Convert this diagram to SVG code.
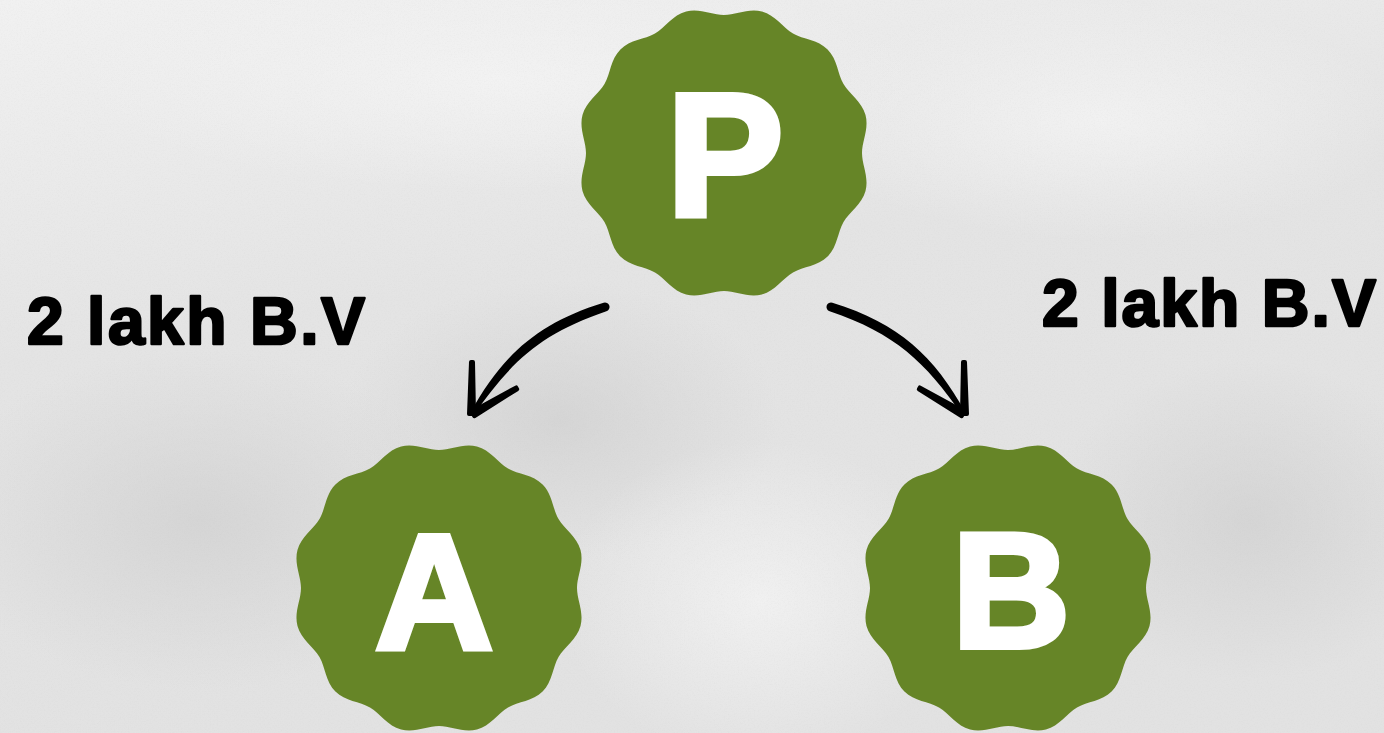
<svg xmlns="http://www.w3.org/2000/svg" xmlns:xlink="http://www.w3.org/1999/xlink" width="1384" height="733" viewBox="0 0 1384 733">
<style>
.badge{fill:#668527}
.letter{font-family:"Liberation Sans",Arial,sans-serif;font-weight:bold;fill:#ffffff;stroke:#ffffff;stroke-width:6;stroke-linejoin:miter;text-anchor:middle}
.label{font-family:"Liberation Sans",Arial,sans-serif;font-weight:bold;font-size:66px;fill:#000000;stroke:#000000;stroke-width:2.5;stroke-linejoin:round}
.ink{fill:#000000}
.barb{fill:#000000;stroke:#000000;stroke-width:4;stroke-linejoin:round}
</style>
<defs>
<linearGradient id="bg" x1="0" y1="0" x2="0.3" y2="1">
<stop offset="0" stop-color="#f1f1f1"/>
<stop offset="0.45" stop-color="#e4e4e4"/>
<stop offset="1" stop-color="#e2e2e2"/>
</linearGradient>
<radialGradient id="dark1" cx="0.5" cy="0.5" r="0.5">
<stop offset="0" stop-color="#cfcfcf" stop-opacity="0.7"/>
<stop offset="1" stop-color="#cfcfcf" stop-opacity="0"/>
</radialGradient>
<radialGradient id="light1" cx="0.5" cy="0.5" r="0.5">
<stop offset="0" stop-color="#f4f4f4" stop-opacity="0.8"/>
<stop offset="1" stop-color="#f4f4f4" stop-opacity="0"/>
</radialGradient>
<filter id="grain" x="0" y="0" width="100%" height="100%">
<feTurbulence type="fractalNoise" baseFrequency="0.7" numOctaves="2" seed="5"/>
<feColorMatrix type="matrix" values="0 0 0 0 0.5  0 0 0 0 0.5  0 0 0 0 0.5  0 0 0 1.6 -0.7"/>
</filter>
<path id="scallop" d="M0,-138 C12,-138 24.4,-145.13 37.92,-141.51 C51.44,-137.89 58.61,-125.51 69,-119.51 C79.39,-113.51 93.69,-113.49 103.59,-103.59 C113.49,-93.69 113.51,-79.39 119.51,-69 C125.51,-58.61 137.89,-51.44 141.51,-37.92 C145.13,-24.4 138,-12 138,0 C138,12 145.13,24.4 141.51,37.92 C137.89,51.44 125.51,58.61 119.51,69 C113.51,79.39 113.49,93.69 103.59,103.59 C93.69,113.49 79.39,113.51 69,119.51 C58.61,125.51 51.44,137.89 37.92,141.51 C24.4,145.13 12,138 0,138 C-12,138 -24.4,145.13 -37.92,141.51 C-51.44,137.89 -58.61,125.51 -69,119.51 C-79.39,113.51 -93.69,113.49 -103.59,103.59 C-113.49,93.69 -113.51,79.39 -119.51,69 C-125.51,58.61 -137.89,51.44 -141.51,37.92 C-145.13,24.4 -138,12 -138,0 C-138,-12 -145.13,-24.4 -141.51,-37.92 C-137.89,-51.44 -125.51,-58.61 -119.51,-69 C-113.51,-79.39 -113.49,-93.69 -103.59,-103.59 C-93.69,-113.49 -79.39,-113.51 -69,-119.51 C-58.61,-125.51 -51.44,-137.89 -37.92,-141.51 C-24.4,-145.13 -12,-138 0,-138 Z"/>
<g id="brushArrow">
<path class="ink" d="M603.6,302.7 C536.7,323.4 501.8,355.9 470.3,412.9 L473.7,415.1 C511.2,361.7 540.1,333.8 606.4,311.3 A4.5,4.5 0 0 0 603.6,302.7 Z"/>
<polygon class="barb" points="471,362 473,362 474,414 469,414"/>
<polygon class="barb" points="474.3,416.2 471.7,411.8 516.2,387.4 517.2,389.2"/>
</g>
</defs>

<g id="background">
<rect x="0" y="0" width="1384" height="733" fill="url(#bg)"/>
<ellipse cx="200" cy="520" rx="260" ry="170" fill="url(#dark1)"/>
<ellipse cx="560" cy="420" rx="220" ry="140" fill="url(#dark1)"/>
<ellipse cx="1250" cy="520" rx="200" ry="160" fill="url(#dark1)"/>
<ellipse cx="500" cy="80" rx="420" ry="110" fill="url(#light1)"/>
<ellipse cx="1100" cy="120" rx="300" ry="120" fill="url(#light1)"/>
<ellipse cx="760" cy="600" rx="200" ry="160" fill="url(#light1)"/>
<rect x="0" y="0" width="1384" height="733" filter="url(#grain)" opacity="0.12"/>
</g>

<g id="connectors">
<g id="edge-P-A"><use xlink:href="#brushArrow" href="#brushArrow"/></g>
<g id="edge-P-B"><use xlink:href="#brushArrow" href="#brushArrow" transform="translate(1436,0) scale(-1,1)"/></g>
</g>

<g id="node-P">
<use class="badge" xlink:href="#scallop" href="#scallop" transform="translate(724,153)"/>
<text class="letter" x="725" y="215" font-size="175">P</text>
</g>

<g id="node-A">
<use class="badge" xlink:href="#scallop" href="#scallop" transform="translate(439,588)"/>
<text class="letter" x="434" y="649" font-size="163">A</text>
</g>

<g id="node-B">
<use class="badge" xlink:href="#scallop" href="#scallop" transform="translate(1008,588)"/>
<text class="letter" x="1011" y="647" font-size="163">B</text>
</g>

<g id="label-left">
<text class="label" x="27" y="344" textLength="338" lengthAdjust="spacing">2 lakh B.V</text>
</g>
<g id="label-right">
<text class="label" x="1042" y="326" textLength="334" lengthAdjust="spacing">2 lakh B.V</text>
</g>
</svg>
